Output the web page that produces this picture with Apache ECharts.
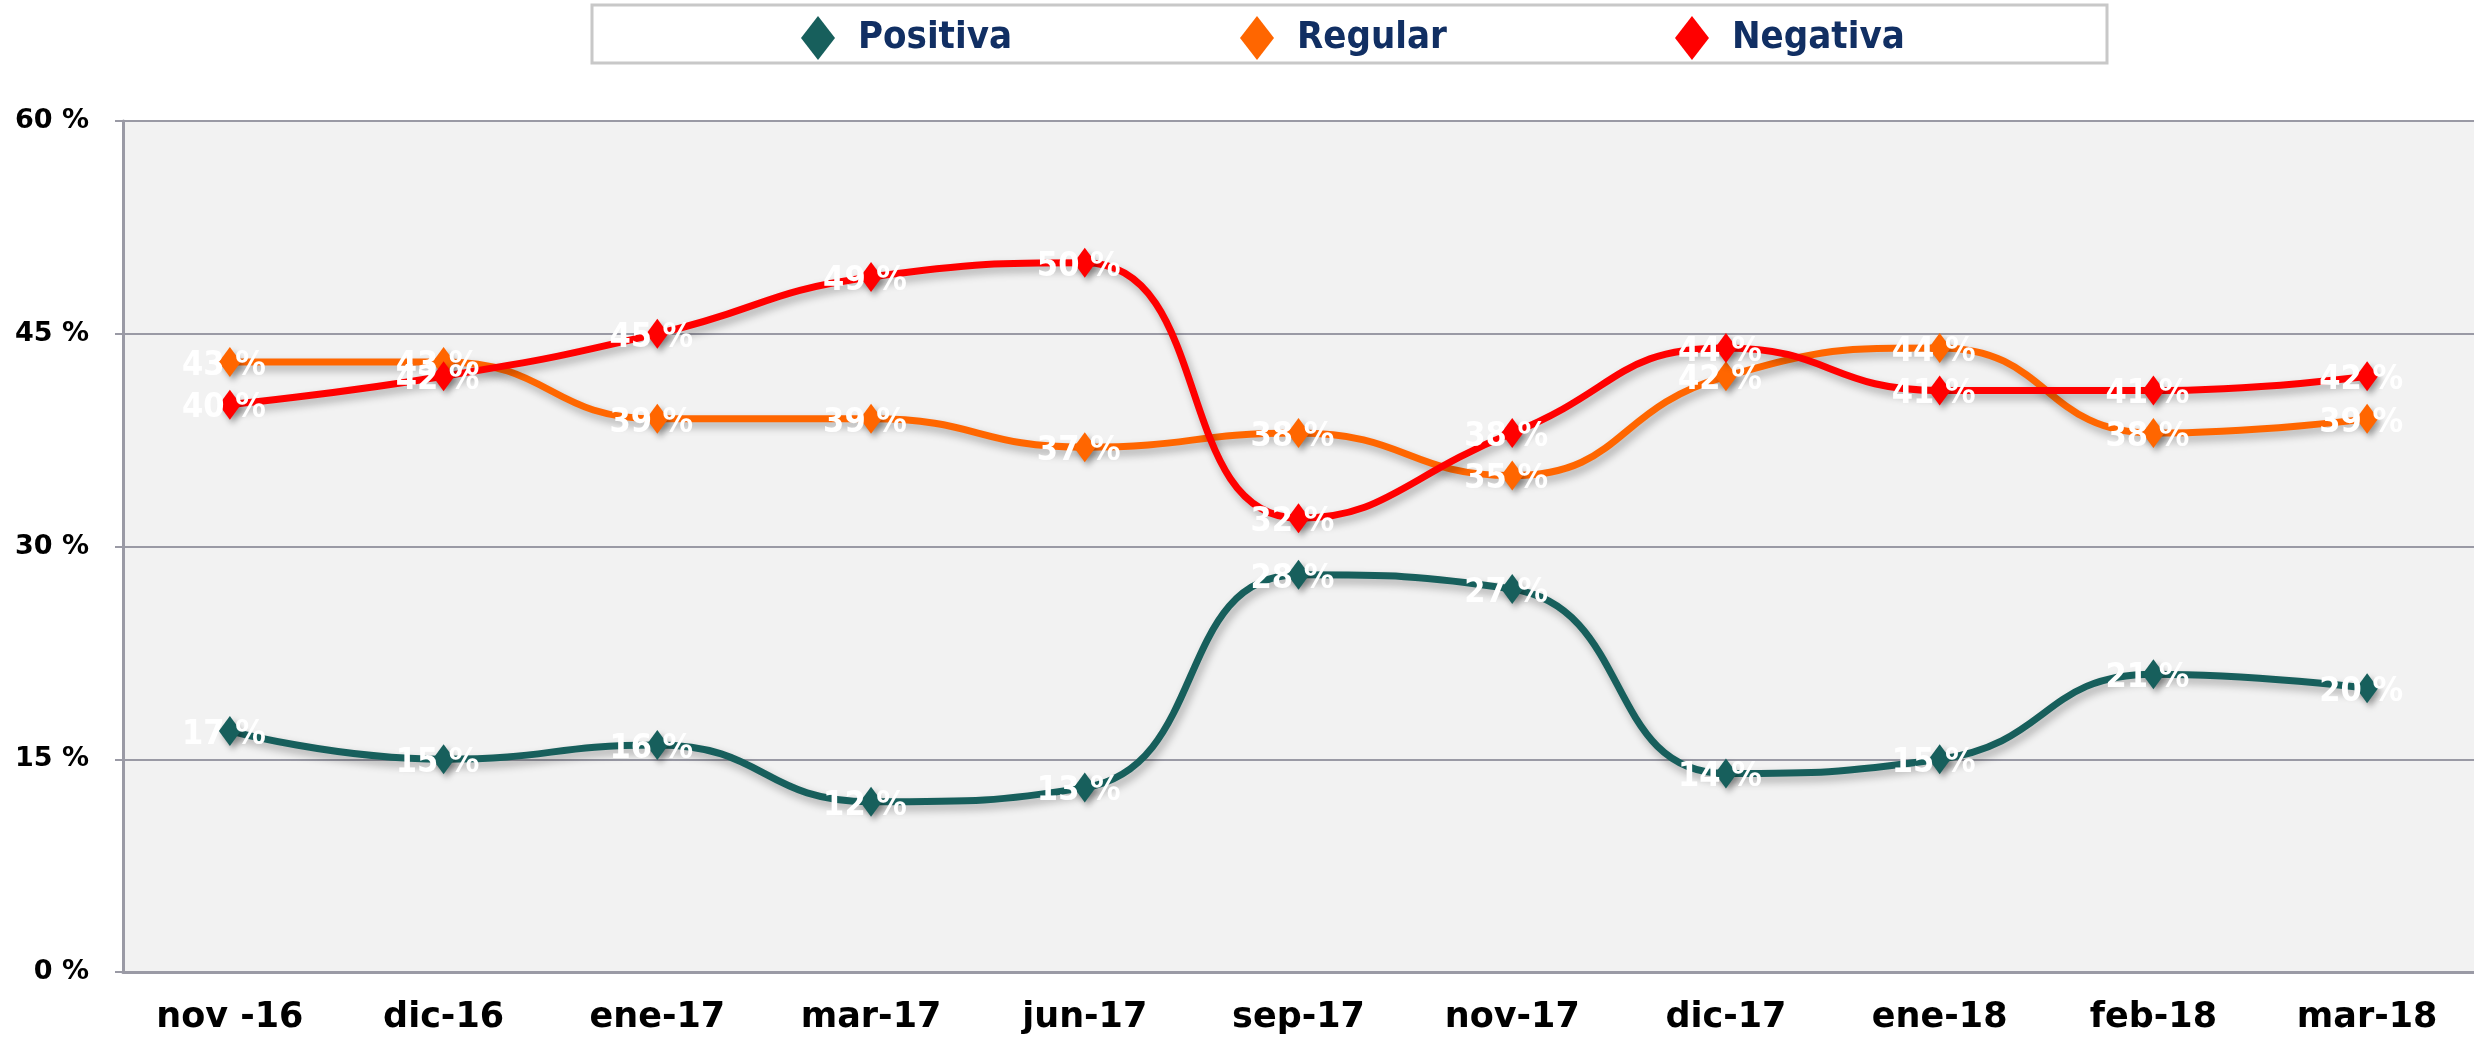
<!DOCTYPE html>
<html>
<head>
<meta charset="utf-8">
<script src="https://cdn.jsdelivr.net/npm/echarts@6/dist/echarts.min.js"></script>
<style>
  html, body { margin: 0; padding: 0; background: #ffffff; }
  #chart { width: 2474px; height: 1045px; }
</style>
</head>
<body>
<div id="chart"></div>
<script>
// periodos y valores (%)
const months = ['nov -16', 'dic-16', 'ene-17', 'mar-17', 'jun-17', 'sep-17', 'nov-17', 'dic-17', 'ene-18', 'feb-18', 'mar-18']
const positiva = [17, 15, 16, 12, 13, 28, 27, 14, 15, 21, 20]
const regular = [43, 43, 39, 39, 37, 38, 35, 42, 44, 38, 39]
const negativa = [40, 42, 45, 49, 50, 32, 38, 44, 41, 41, 42]
const yTicks = [0, 15, 30, 45, 60]

const chart = echarts.init(document.getElementById('chart'))

const makeSeries = (name, data, color) => ({
  name: name,
  type: 'line',
  data: data,
  smooth: 0.5,
  symbol: 'diamond',
  symbolSize: [22, 30],
  itemStyle: {
    color: color,
    shadowColor: 'rgba(0,0,0,0.35)',
    shadowBlur: 6,
    shadowOffsetX: 3,
    shadowOffsetY: 4
  },
  lineStyle: {
    color: color,
    width: 7,
    shadowColor: 'rgba(0,0,0,0.3)',
    shadowBlur: 8,
    shadowOffsetX: 3,
    shadowOffsetY: 5
  },
  label: {
    show: true,
    position: 'inside',
    offset: [-6, 4],
    formatter: '{c} %',
    color: '#ffffff',
    fontFamily: 'DejaVu Sans Condensed',
    fontWeight: 'bold',
    fontSize: 34
  }
})

chart.setOption({
  animation: false,
  graphic: [
    {
      type: 'rect',
      z: 0,
      shape: { x: 592, y: 5, width: 1515, height: 58 },
      style: { fill: '#ffffff', stroke: '#c8c8c8', lineWidth: 3 }
    }
  ],
  legend: {
    left: 796,
    top: 11,
    z: 5,
    itemGap: 228,
    itemWidth: 34,
    itemHeight: 44,
    icon: 'diamond',
    textStyle: {
      color: '#112f63',
      fontFamily: 'DejaVu Sans Condensed',
      fontWeight: 'bold',
      fontSize: 38,
      padding: [0, 0, 0, 18]
    },
    data: ['Positiva', 'Regular', 'Negativa']
  },
  grid: {
    left: 123,
    right: 0,
    top: 121,
    bottom: 73,
    show: true,
    backgroundColor: '#f2f2f2',
    borderWidth: 0
  },
  xAxis: {
    type: 'category',
    data: months,
    boundaryGap: true,
    axisLine: { show: true, lineStyle: { color: '#9a9aa5', width: 3 } },
    axisTick: { show: false },
    axisLabel: {
      color: '#000000',
      fontFamily: 'DejaVu Sans',
      fontWeight: 'bold',
      fontSize: 35,
      margin: 28
    }
  },
  yAxis: {
    type: 'value',
    min: yTicks[0],
    max: yTicks[yTicks.length - 1],
    interval: 15,
    axisLine: { show: true, lineStyle: { color: '#9a9aa5', width: 3 } },
    axisTick: { show: true, length: 8, lineStyle: { color: '#9a9aa5', width: 2 } },
    splitLine: { show: true, lineStyle: { color: '#9a9aa5', width: 2 } },
    axisLabel: {
      formatter: '{value} %',
      color: '#000000',
      fontFamily: 'DejaVu Sans',
      fontWeight: 'bold',
      fontSize: 27,
      margin: 34
    }
  },
  series: [
    makeSeries('Positiva', positiva, '#175f5c'),
    makeSeries('Regular', regular, '#ff6600'),
    makeSeries('Negativa', negativa, '#ff0000')
  ]
})

window.addEventListener('resize', () => {
  chart.resize()
})
</script>
</body>
</html>
